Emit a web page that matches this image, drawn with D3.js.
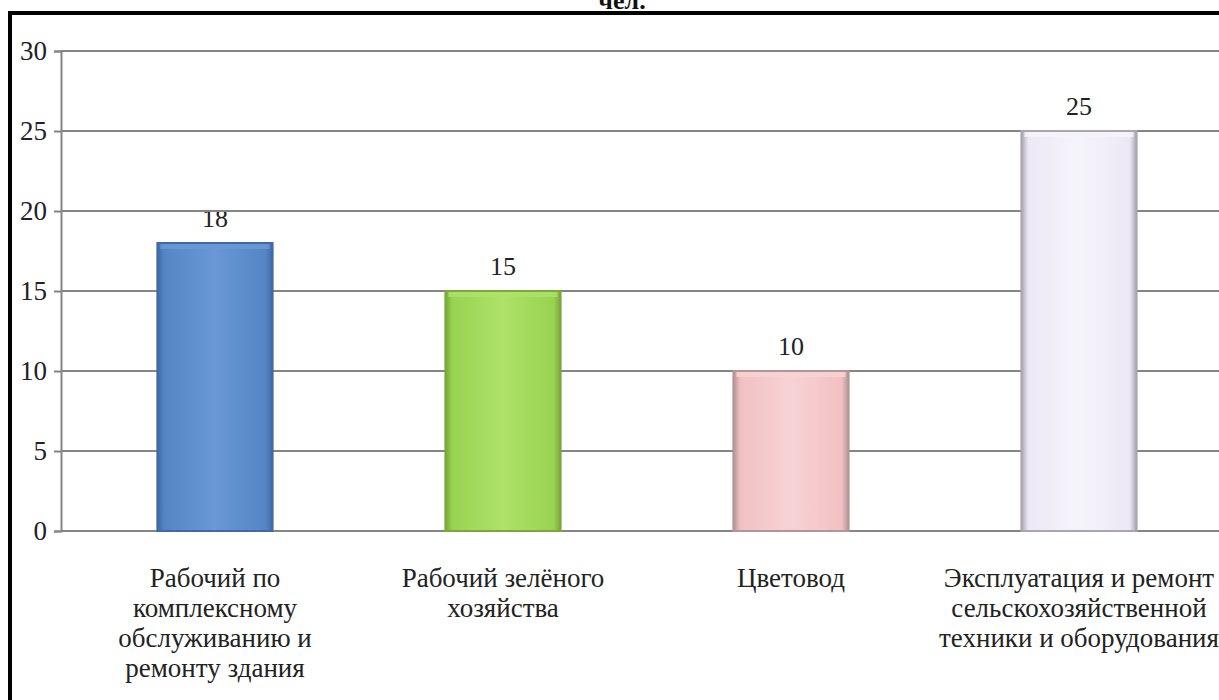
<!DOCTYPE html>
<html><head><meta charset="utf-8">
<script src="https://cdn.jsdelivr.net/npm/d3@7"></script>
<style>html,body{margin:0;padding:0;background:#fff;overflow:hidden}svg{display:block}</style>
</head><body>
<script>
const categories = [
  ["Рабочий по", "комплексному", "обслуживанию и", "ремонту здания"],
  ["Рабочий зелёного", "хозяйства"],
  ["Цветовод"],
  ["Эксплуатация и ремонт", "сельскохозяйственной", "техники и оборудования"]
];
const values = [18, 15, 10, 25];
const yTicks = [0, 5, 10, 15, 20, 25, 30];
const titleText = "чел.";
const barColors = [
  {base:"#5585c5", light:"#6a98d6", dark:"#3f6aa6"},
  {base:"#99d352", light:"#aee26a", dark:"#7aa83c"},
  {base:"#f2c0c3", light:"#f7d3d5", dark:"#b59496"},
  {base:"#ece8f5", light:"#f6f4fb", dark:"#a9a6b0"}
];
const FONT = "Liberation Serif";

const W = 1219, H = 700;
const svg = d3.select("body").append("svg").attr("width", W).attr("height", H);
const defs = svg.append("defs");
barColors.forEach((c,i)=>{
  const g = defs.append("linearGradient").attr("id","g"+i).attr("x1","0").attr("x2","1").attr("y1","0").attr("y2","0");
  g.append("stop").attr("offset","0%").attr("stop-color",c.dark);
  g.append("stop").attr("offset","6%").attr("stop-color",c.base);
  g.append("stop").attr("offset","50%").attr("stop-color",c.light);
  g.append("stop").attr("offset","94%").attr("stop-color",c.base);
  g.append("stop").attr("offset","100%").attr("stop-color",c.dark);
});

// frame
svg.append("rect").attr("x",10).attr("y",13).attr("width",W+20).attr("height",H+20)
  .attr("fill","none").attr("stroke","#000").attr("stroke-width",4);

// title (clipped at top, as in the reference)
svg.append("text").attr("x",622).attr("y",9).attr("text-anchor","middle")
  .style("font-family",FONT).attr("font-weight","bold").attr("font-size",26)
  .attr("fill","#111").text(titleText);

const axisX = 61;
const y = d3.scaleLinear().domain([0,30]).range([531,51]);
const x = d3.scaleBand().domain(d3.range(values.length)).range([71, 1223]).paddingInner(0.6).paddingOuter(0.3);

// value labels (drawn under the gridlines, as in the reference)
svg.append("g").selectAll("text").data(values).join("text")
  .attr("x",(d,i)=>x(i)+x.bandwidth()/2).attr("y",d=>y(d)-16)
  .attr("text-anchor","middle").style("font-family",FONT).attr("font-size",26)
  .attr("fill","#222").text(d=>d);

// gridlines
svg.append("g").selectAll("line").data(yTicks).join("line")
  .attr("x1",axisX).attr("x2",W+5).attr("y1",d=>y(d)).attr("y2",d=>y(d))
  .attr("stroke","#858585").attr("stroke-width",2);

// y axis
const yAxis = svg.append("g").attr("transform",`translate(${axisX},0)`)
  .call(d3.axisLeft(y).tickValues(yTicks).tickSize(7).tickPadding(7));
yAxis.select(".domain").attr("stroke","#858585").attr("stroke-width",2);
yAxis.selectAll(".tick line").attr("stroke","#858585").attr("stroke-width",2);
yAxis.selectAll(".tick text").style("font-family",FONT).attr("font-size",27).attr("fill","#222");

// bars
const bars = svg.append("g").selectAll("g").data(values).join("g");
bars.append("rect")
  .attr("x",(d,i)=>x(i)).attr("y",d=>y(d))
  .attr("width",x.bandwidth()).attr("height",d=>y(0)-y(d))
  .attr("fill",(d,i)=>`url(#g${i})`)
  .attr("stroke",(d,i)=>barColors[i].dark).attr("stroke-width",2);
bars.append("rect")
  .attr("x",(d,i)=>x(i)+3).attr("y",d=>y(d)+1)
  .attr("width",x.bandwidth()-6).attr("height",5)
  .attr("fill",(d,i)=>barColors[i].light).attr("opacity",0.8);

// category labels
const cl = svg.append("g").selectAll("text").data(categories).join("text")
  .attr("x",(d,i)=>x(i)+x.bandwidth()/2).attr("y",587)
  .attr("text-anchor","middle").style("font-family",FONT).attr("font-size",27).attr("fill","#222");
cl.selectAll("tspan").data(d=>d).join("tspan")
  .attr("x",function(){return d3.select(this.parentNode).attr("x");})
  .attr("dy",(d,j)=>j===0?0:30).text(d=>d);
</script>
</body></html>
